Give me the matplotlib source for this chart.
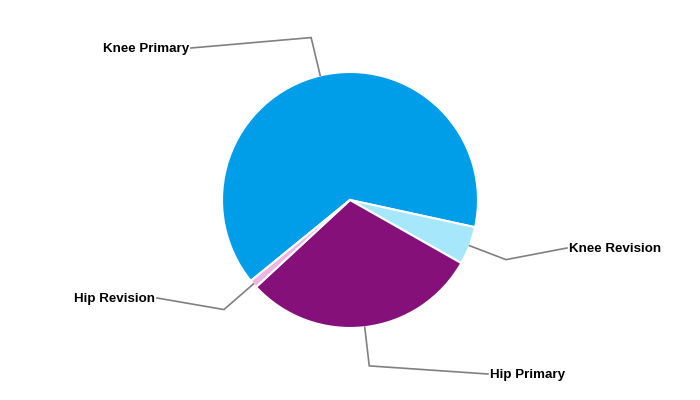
import numpy as np
import matplotlib.pyplot as plt

# slice data, in drawing order (clockwise)
labels = ["Knee Primary", "Knee Revision", "Hip Primary", "Hip Revision"]
values = [64.3, 4.8, 29.9, 1.0]
colors = ["#009de9", "#a6e7fc", "#85107a", "#f0b3e4"]

# label anchor points (pixel coords) and text alignment
label_pos = [(191, 48), (567, 248), (488, 374), (157, 298)]
label_ha = ["right", "left", "left", "right"]

W, H = 700, 400
cx, cy, r = 350, 200, 128
start = 219.2

fig = plt.figure(figsize=(7, 4), dpi=100)
ax = fig.add_axes([0, 0, 1, 1])
ax.set_xlim(0, W)
ax.set_ylim(0, H)
ax.set_aspect("equal")
ax.axis("off")

wedges, _ = ax.pie(values, colors=colors, startangle=start, counterclock=False,
                   center=(cx, H - cy), radius=r,
                   wedgeprops=dict(edgecolor="white", linewidth=1.5))
ax.set_xlim(0, W)
ax.set_ylim(0, H)

for w, lab, (lx, ly), ha in zip(wedges, labels, label_pos, label_ha):
    mid = np.deg2rad((w.theta1 + w.theta2) / 2)
    x0, y0 = cx + r * np.cos(mid), H - cy + r * np.sin(mid)
    x1, y1 = cx + (r + 39) * np.cos(mid), H - cy + (r + 39) * np.sin(mid)
    ax.plot([x0, x1, lx], [y0, y1, H - ly], color="#808080", lw=1.2,
            solid_joinstyle="miter")
    dx = -2 if ha == "right" else 2
    ax.text(lx + dx, H - ly - 1, lab, ha=ha, va="center", fontsize=9.6,
            fontweight="bold", family="Liberation Sans", color="black")

fig.savefig("out.png", dpi=100)
